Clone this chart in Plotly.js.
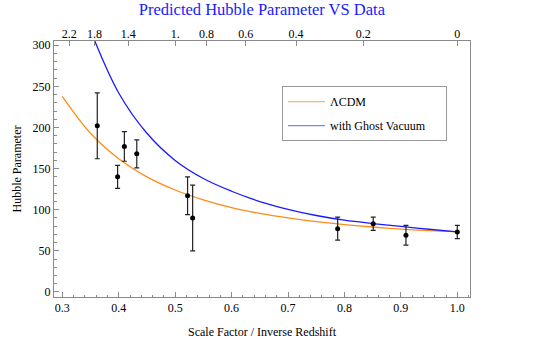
<!DOCTYPE html>
<html>
<head>
<meta charset="utf-8">
<script src="https://cdn.plot.ly/plotly-3.0.1.min.js"></script>
<style>html,body{margin:0;padding:0;background:#fff;}#chart{width:556px;height:347px;}</style>
</head>
<body>
<div id="chart"></div>
<script>
// Observed data (scale factor, Hubble parameter, error)
var scaleFactor = [0.362, 0.398, 0.41, 0.432, 0.522, 0.531, 0.788, 0.851, 0.909, 1.0];
var hubbleObs = [202, 140, 177, 168, 117, 90, 77, 83, 69, 73];
var hubbleErr = [40, 14, 18, 17, 23, 40, 14, 8, 12, 8];

// Model curves
var curveA = [0.30, 0.35, 0.40, 0.45, 0.50, 0.55, 0.60, 0.65, 0.70, 0.75, 0.80, 0.85, 0.90, 0.95, 1.00];
var lcdmH = [238, 193, 162, 140, 124, 112, 102.5, 95.5, 90, 85.5, 82, 79, 76.5, 74.5, 73];
var ghostA = [0.35, 0.40, 0.45, 0.50, 0.55, 0.60, 0.65, 0.70, 0.75, 0.80, 0.85, 0.90, 0.95, 1.00];
var ghostH = [318, 242, 193, 160, 138, 122.5, 110, 100.5, 93, 87.3, 83.2, 79.7, 76.3, 73];

// Top axis: redshift labels
var redshiftLabels = ["2.2", "1.8", "1.4", "1.", "0.8", "0.6", "0.4", "0.2", "0"];
var redshiftVals = [2.2, 1.8, 1.4, 1.0, 0.8, 0.6, 0.4, 0.2, 0];
var topTickPos = redshiftVals.map(function (z) { return 1 / (1 + z); });

var serif = "Liberation Serif, Times New Roman, serif";
var xr = [0.2853, 1.0225];
var frame = "#8a8a8a";
var pad = "\u00a0\u00a0\u00a0\u00a0\u00a0";

var traces = [
  {x: curveA, y: lcdmH, type: "scatter", mode: "lines", line: {color: "#ff8c1a", width: 1.3, shape: "spline"}, showlegend: false, hoverinfo: "skip"},
  {x: ghostA, y: ghostH, type: "scatter", mode: "lines", line: {color: "#1a1aff", width: 1.3, shape: "spline"}, showlegend: false, hoverinfo: "skip"},
  {x: scaleFactor, y: hubbleObs, type: "scatter", mode: "markers",
   marker: {color: "#000", size: 5},
   error_y: {type: "data", array: hubbleErr, visible: true, color: "#222", thickness: 1.2, width: 2.5},
   showlegend: false},
  {x: [null], y: [null], type: "scatter", mode: "lines", name: "ΛCDM", legendgroup: "a", line: {color: "#ffb366", width: 1.3}},
  {x: [null], y: [null], type: "scatter", mode: "lines", name: "with Ghost Vacuum" + pad, legendgroup: "b", line: {color: "#8080ff", width: 1.3}},
  {x: [0.5], y: [null], xaxis: "x2", type: "scatter", mode: "markers", showlegend: false, hoverinfo: "skip"}
];

var layout = {
  width: 556, height: 347,
  margin: {l: 54, r: 86, t: 41, b: 50},
  paper_bgcolor: "#fff", plot_bgcolor: "#fff",
  font: {family: serif, size: 12, color: "#000"},
  title: {text: "Predicted Hubble Parameter VS Data", font: {family: serif, size: 16.5, color: "#1a1aff"}, x: 0.471, xanchor: "center", y: 0.989, yanchor: "top"},
  xaxis: {
    range: xr, showgrid: false, zeroline: false,
    showline: true, linecolor: frame, linewidth: 1, mirror: true,
    ticks: "inside", ticklen: 5, tickcolor: frame, tickwidth: 1,
    tickvals: [0.3, 0.4, 0.5, 0.6, 0.7, 0.8, 0.9, 1.0],
    ticktext: ["0.3", "0.4", "0.5", "0.6", "0.7", "0.8", "0.9", "1.0"],
    minor: {dtick: 0.02, tick0: 0, ticks: "inside", ticklen: 2.5, tickcolor: frame, showgrid: false},
    tickfont: {family: serif, size: 12},
    title: {text: "Scale Factor / Inverse Redshift", font: {family: serif, size: 12}, standoff: 13}
  },
  xaxis2: {
    range: xr, overlaying: "x", side: "top", anchor: "y",
    showgrid: false, zeroline: false, showline: false,
    ticks: "inside", ticklen: 5, tickcolor: frame, tickwidth: 1,
    tickvals: topTickPos, ticktext: redshiftLabels,
    tickfont: {family: serif, size: 12}
  },
  yaxis: {
    range: [-6.1, 305.2], showgrid: false, zeroline: false,
    showline: true, linecolor: frame, linewidth: 1, mirror: true,
    ticks: "inside", ticklen: 5, tickcolor: frame, tickwidth: 1,
    tickvals: [0, 50, 100, 150, 200, 250, 300],
    minor: {dtick: 10, tick0: 0, ticks: "inside", ticklen: 2.5, tickcolor: frame, showgrid: false},
    tickfont: {family: serif, size: 12},
    title: {text: "Hubble Parameter", font: {family: serif, size: 12}, standoff: 8}
  },
  legend: {
    x: 0.548, y: 0.824, xanchor: "left", yanchor: "top",
    bordercolor: "#999", borderwidth: 1, bgcolor: "#fff",
    font: {family: serif, size: 12}, tracegroupgap: 5, itemwidth: 37
  },
  showlegend: true
};

Plotly.newPlot("chart", traces, layout, {displayModeBar: false, staticPlot: true});
</script>
</body>
</html>
